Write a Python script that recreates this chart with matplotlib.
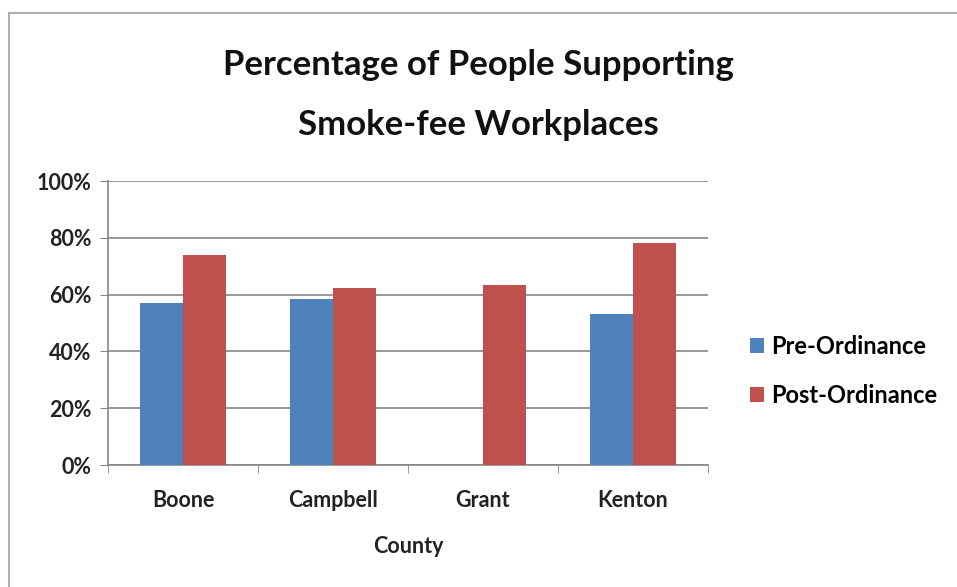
import numpy as np
from matplotlib import pyplot as plt
from matplotlib.lines import Line2D

counties = ['Boone', 'Campbell', 'Grant', 'Kenton']
pre_ordinance = [57, 58.5, 0, 53]
post_ordinance = [74, 62.5, 63.5, 78]
y_ticks = [0, 20, 40, 60, 80, 100]

plt.rcParams['font.family'] = ['Lato', 'DejaVu Sans']

fig = plt.figure(figsize=(9.57, 5.87), dpi=100)
# chart frame: only the left and top edges show in the reference
fx, fy = 9 / 957, 1 - 13 / 587
fig.add_artist(Line2D([fx, fx], [0, fy], transform=fig.transFigure, color='#b0b0b0', lw=1.5))
fig.add_artist(Line2D([fx, 1], [fy, fy], transform=fig.transFigure, color='#b0b0b0', lw=1.5))

ax = fig.add_axes([108 / 957, 1 - 465 / 587, 600 / 957, 284 / 587])

x = np.arange(len(counties))
w = 1 / 3.5
ax.bar(x - w / 2, pre_ordinance, w, color='#4F81BD', label='Pre-Ordinance', zorder=3)
ax.bar(x + w / 2, post_ordinance, w, color='#C0504D', label='Post-Ordinance', zorder=3)

ax.set_xlim(-0.5, len(counties) - 0.5)
ax.set_ylim(0, 100)
ax.set_yticks(y_ticks)
ax.set_yticklabels([f'{v}%' for v in y_ticks], fontsize=15.5, fontweight='bold', color='#222222')
ax.set_xticks(x)
ax.set_xticklabels(counties, fontsize=15.5, fontweight='bold', color='#222222')
ax.tick_params(axis='x', length=0, pad=18)
ax.set_xticks(np.arange(-0.5, len(counties)), minor=True)
ax.tick_params(axis='x', which='minor', length=6, color='#868686')
ax.tick_params(axis='y', length=6, color='#868686', pad=6)
ax.grid(axis='y', color='#868686', linewidth=1.2, zorder=0)
for s in ['top', 'right']:
    ax.spines[s].set_visible(False)
for s in ['left', 'bottom']:
    ax.spines[s].set_color('#868686')
    ax.spines[s].set_linewidth(1.2)

ax.set_xlabel('County', fontsize=15.5, fontweight='bold', color='#222222', labelpad=18)

fig.text(0.5, 1 - 95 / 587, 'Percentage of People Supporting\nSmoke-fee Workplaces', ha='center', va='center',
         fontsize=25, fontweight='bold', color='#111111', linespacing=2.05)

fig.legend(loc='center left', bbox_to_anchor=(750 / 957, 1 - 371 / 587), frameon=False,
           prop={'weight': 'bold', 'size': 17}, handlelength=0.6, handleheight=0.6,
           handletextpad=0.3, labelspacing=1.1, borderpad=0, borderaxespad=0)

plt.savefig('out.png', dpi=100)
